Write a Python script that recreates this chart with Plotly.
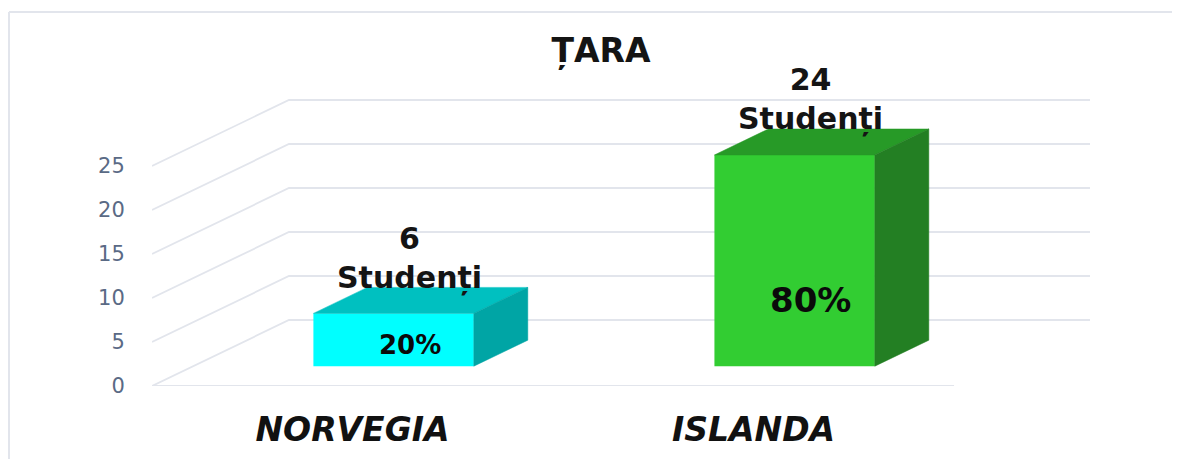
import plotly.graph_objects as go

# Data
categories = ["NORVEGIA", "ISLANDA"]
students = [6, 24]
percent_labels = ["20%", "80%"]
value_labels = ["6<br>Studenți", "24<br>Studenți"]
y_ticks = [0, 5, 10, 15, 20, 25]
title_text = "ȚARA"

# Styles
front_colors = ["#00FFFF", "#32CD32"]
top_colors = ["#00C0C0", "#279A27"]
side_colors = ["#00A5A5", "#237F23"]
GRID = "#E2E5EC"
FONT = "DejaVu Sans"

# Fake-3D projection, in axis units
DEPTH_X = 0.3416
DEPTH_Y = 7.5
BAR_D0 = 0.30
BAR_D1 = 0.694
BAR_W = 0.40
X_RANGE = [-0.5, 1.839]
Y_RANGE = [0, 34.77]
X_FRONT_END = 1.5


def proj(x, v, d):
    return x + d * DEPTH_X, v + d * DEPTH_Y


def poly(points):
    xs, ys = zip(*points)
    return list(xs) + [xs[0]], list(ys) + [ys[0]]


fig = go.Figure()

# Wall and floor grid, behind the bars (base subplot)
x_back_end = X_RANGE[1] - DEPTH_X
for t in y_ticks:
    p0 = proj(X_RANGE[0], t, 0)
    p1 = proj(X_RANGE[0], t, 1)
    p2 = proj(x_back_end, t, 1)
    fig.add_trace(go.Scatter(x=[p0[0], p1[0], p2[0]], y=[p0[1], p1[1], p2[1]], mode="lines",
                             line=dict(color=GRID, width=1.8), hoverinfo="skip",
                             showlegend=False, cliponaxis=False))
fig.add_trace(go.Scatter(x=[X_RANGE[0], X_FRONT_END], y=[0, 0], mode="lines",
                         line=dict(color=GRID, width=1.8), hoverinfo="skip",
                         showlegend=False, cliponaxis=False))

# Front faces, real bars on an overlaid subplot so that they cover the grid
front_x = [i + BAR_D0 * DEPTH_X for i in range(len(categories))]
fig.add_trace(go.Bar(x=front_x, y=students, base=[BAR_D0 * DEPTH_Y] * len(students),
                     width=BAR_W, marker=dict(color=front_colors, line=dict(width=0)),
                     xaxis="x2", yaxis="y2", showlegend=False, hoverinfo="skip"))

# Top and side faces
for i, v in enumerate(students):
    l, r = i - BAR_W / 2, i + BAR_W / 2
    top = [proj(l, v, BAR_D0), proj(r, v, BAR_D0), proj(r, v, BAR_D1), proj(l, v, BAR_D1)]
    side = [proj(r, 0, BAR_D0), proj(r, 0, BAR_D1), proj(r, v, BAR_D1), proj(r, v, BAR_D0)]
    for pts, col in ((top, top_colors[i]), (side, side_colors[i])):
        xs, ys = poly(pts)
        fig.add_trace(go.Scatter(x=xs, y=ys, mode="lines", fill="toself", fillcolor=col,
                                 line=dict(color=col, width=0.5), xaxis="x2", yaxis="y2",
                                 showlegend=False, hoverinfo="skip"))

# Labels
LABEL_DX = 0.143
value_label_gap = 8.5
percent_label_y = [4.66, 9.77]
percent_sizes = [26, 34]
annotations = []
for i, v in enumerate(students):
    annotations.append(dict(x=i + LABEL_DX, y=v + value_label_gap, xref="x", yref="y",
                            text="<b>%s</b>" % value_labels[i].replace("<br>", "</b><br><b>"),
                            showarrow=False, xanchor="center", yanchor="middle",
                            font=dict(family=FONT, size=30, color="#141414")))
    annotations.append(dict(x=i + LABEL_DX, y=percent_label_y[i], xref="x", yref="y",
                            text="<b>%s</b>" % percent_labels[i], showarrow=False,
                            xanchor="center", yanchor="middle",
                            font=dict(family=FONT, size=percent_sizes[i], color="#0A0A0A")))

# The page body adds an 8 px margin, so the figure is 8 px smaller than the window
OFF = 8
W, H = 1180 - OFF, 459 - OFF
L, R, T, B = 144, 90, 72, 73
pw, ph = W - L - R, H - T - B


def px(p):
    return (p - OFF - L) / pw


def py(p):
    return (H - B - (p - OFF)) / ph


frame = [
    dict(type="line", xref="paper", yref="paper", x0=px(9), x1=px(1180), y0=py(12), y1=py(12),
         line=dict(color=GRID, width=2)),
    dict(type="line", xref="paper", yref="paper", x0=px(9), x1=px(9), y0=py(12), y1=py(459),
         line=dict(color=GRID, width=2)),
]

fig.update_layout(
    width=W, height=H, autosize=False,
    margin=dict(l=L, r=R, t=T, b=B, autoexpand=False),
    paper_bgcolor="white", plot_bgcolor="rgba(0,0,0,0)",
    showlegend=False, hovermode=False, shapes=frame, annotations=annotations,
    title=dict(text="<b>%s</b>" % title_text, x=(601 - OFF) / W, y=1 - (50 - OFF) / H,
               xanchor="center", yanchor="middle", xref="container",
               font=dict(family=FONT, size=33, color="#141414")),
    xaxis=dict(range=X_RANGE, tickmode="array", tickvals=list(range(len(categories))),
               ticktext=categories, showgrid=False, zeroline=False, showline=False,
               ticks="outside", ticklen=14, tickcolor="rgba(0,0,0,0)",
               tickfont=dict(family=FONT, size=33, color="#111111", weight="bold", style="italic")),
    yaxis=dict(range=Y_RANGE, tickmode="array", tickvals=y_ticks,
               ticktext=[str(t) for t in y_ticks], showgrid=False, zeroline=False, showline=False,
               ticks="outside", ticklen=22, tickcolor="rgba(0,0,0,0)",
               tickfont=dict(family=FONT, size=21, color="#5A6A85")),
    xaxis2=dict(range=X_RANGE, overlaying="x", visible=False),
    yaxis2=dict(range=Y_RANGE, overlaying="y", visible=False),
)

fig.write_html("out.html", config=dict(displayModeBar=False))
